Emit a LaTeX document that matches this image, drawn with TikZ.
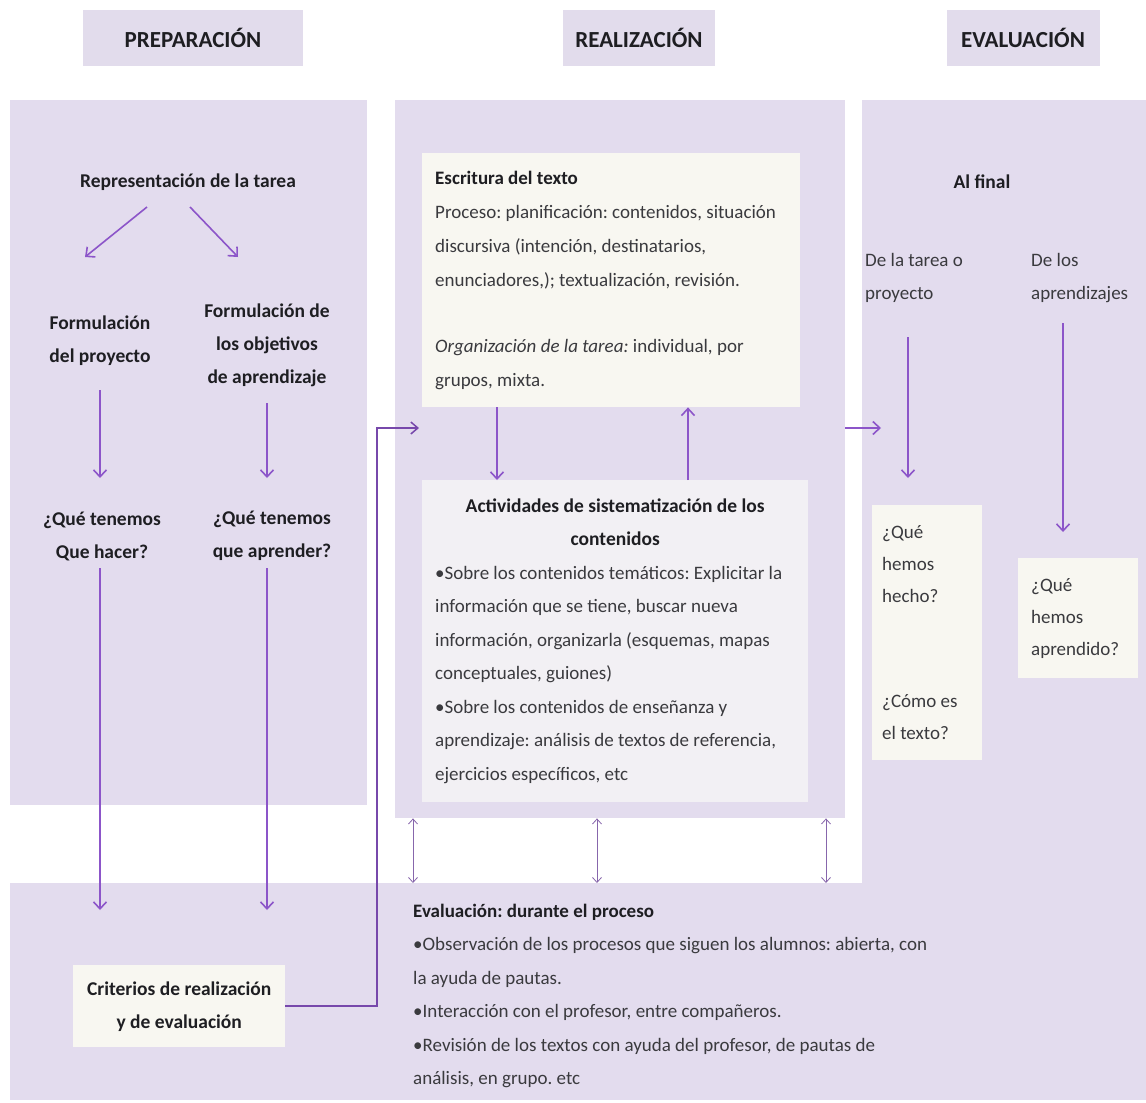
\documentclass[tikz,border=0pt]{standalone}
\usepackage{fontspec}
\setmainfont{Carlito}
\usepackage{tikz}
\usetikzlibrary{arrows.meta}
\setlength{\parindent}{0pt}
\frenchspacing

\definecolor{lavanda}{HTML}{E3DCEE}
\definecolor{cabecera}{HTML}{E2DCEC}
\definecolor{crema}{HTML}{F8F7F1}
\definecolor{blanquecino}{HTML}{F2F0F4}
\definecolor{morado}{HTML}{8C55C9}
\definecolor{tinta}{HTML}{1E1E22}
\definecolor{gris}{HTML}{3A3A3E}

\newcommand{\cuerpo}{\fontsize{19}{33.5}\selectfont\color{gris}}
\newcommand{\negro}{\fontsize{19.5}{33}\selectfont\bfseries\color{tinta}}

\tikzset{
  panel/.style={fill=lavanda, anchor=north west, inner sep=0pt},
  titulo/.style={fill=cabecera, inner sep=0pt, minimum height=56pt,
    font=\fontsize{23}{27}\selectfont\bfseries\color{tinta}},
  caja/.style={fill=crema, anchor=north west, align=flush left, font=\cuerpo},
  negrita/.style={font=\negro, align=center, inner sep=0pt},
  llano/.style={font=\cuerpo, align=left, inner sep=0pt, anchor=west},
  flecha/.style={draw=morado, line width=1.6pt, -{Straight Barb[length=7pt,width=13pt]}},
  doble/.style={draw=morado!60!gray, line width=0.8pt,
    {Straight Barb[length=5pt,width=9pt]}-{Straight Barb[length=5pt,width=9pt]}},
  linea/.style={draw=morado!85!black, line width=1.5pt, -{Straight Barb[length=7pt,width=12pt]}}
}

\begin{document}
\begin{tikzpicture}[x=1pt,y=-1pt]
\path[fill=white, use as bounding box] (0,0) rectangle (1146,1103);
% cabeceras
\node[titulo, minimum width=220pt] (tprep) at (193,38) {PREPARACIÓN};
\node[titulo, minimum width=152pt] (treal) at (639,38) {REALIZACIÓN};
\node[titulo, minimum width=153pt] (teval) at (1023,38) {EVALUACIÓN};
% paneles
\node[panel, minimum width=357pt, minimum height=705pt] (panelPrep) at (10,100) {};
\node[panel, minimum width=450pt, minimum height=718pt] (panelReal) at (395,100) {};
\node[panel, minimum width=284pt, minimum height=784pt] (panelEval) at (862,100) {};
\node[panel, minimum width=1136pt, minimum height=217pt] (banda) at (10,883) {};
%
% preparacion
\node[negrita] (rep) at (188,182) {Representación de la tarea};
\node[negrita] (fproy) at (100,341) {Formulación\\del proyecto};
\node[negrita] (fobj) at (267,345) {Formulación de\\los objetivos\\de aprendizaje};
\node[negrita] (qhacer) at (102,536) {¿Qué tenemos\\Que hacer?};
\node[negrita] (qapr) at (272,536) {¿Qué tenemos\\que aprender?};
\node[caja, align=center, font=\negro, minimum width=212pt, minimum height=82pt]
  (crit) at (73,965) {Criterios de realización\\ y de evaluación};
%
\draw[flecha] (rep.center) ++(-41,25) -- ++(-62,50);
\draw[flecha] (rep.center) ++(2,25) -- ++(48,50);
\draw[flecha] ([yshift=-49pt]fproy.center) -- ([yshift=58pt]qhacer.center -| fproy.center);
\draw[flecha] ([yshift=-58pt]fobj.center) -- ([yshift=58pt]qapr.center -| fobj.center);
\draw[flecha] ([yshift=-32pt]fproy.center |- qhacer.center) -- ([yshift=55pt]crit.north -| fproy.center);
\draw[flecha] ([yshift=-32pt]fobj.center |- qapr.center) -- ([yshift=55pt]crit.north -| fobj.center);
%
% realizacion
\node[caja, font=\fontsize{19}{34}\selectfont\color{gris}, text width=352pt,
  inner xsep=13pt, inner ysep=0pt, minimum height=254pt]
  (escritura) at (422,153) {\textbf{\color{tinta}Escritura del texto}\\
  Proceso: planificación: contenidos, situación\\
  discursiva (intención, destinatarios,\\
  enunciadores,); textualización, revisión.\\[32pt]
  \textit{Organización de la tarea:} individual, por\\
  grupos, mixta.};
\node[caja, fill=blanquecino, align=none, text width=360pt, inner xsep=13pt, inner ysep=0pt,
  minimum height=322pt] (activ) at (422,480) {%
  {\centering\negro Actividades de sistematización de los\\ contenidos\par}
  \raggedright
  •Sobre los contenidos temáticos: Explicitar la\\
  información que se tiene, buscar nueva\\
  información, organizarla (esquemas, mapas\\
  conceptuales, guiones)\\
  •Sobre los contenidos de enseñanza y\\
  aprendizaje: análisis de textos de referencia,\\
  ejercicios específicos, etc};
%
\draw[flecha] ([xshift=75pt]escritura.south west) -- ([xshift=75pt]escritura.south west |- activ.north);
\draw[flecha] ([xshift=266pt]escritura.south west |- activ.north) -- ([xshift=266pt]escritura.south west);
\foreach \dx in {18,202,431}
  \draw[doble] ([xshift=\dx pt]panelReal.south west) -- ([xshift=\dx pt]panelReal.south west |- banda.north);
%
\coordinate (entrada) at (419,428);
\coordinate (salida) at (881,428);
\draw[linea] (crit.east) -| ([xshift=-42pt]entrada) -- (entrada);
\draw[flecha] (panelReal.east |- salida) -- (salida);
%
% evaluacion
\node[negrita] (alfinal) at (982,182) {Al final};
\node[llano] (dtarea) at (865,278) {De la tarea o\\proyecto};
\node[llano] (daprend) at (1031,278) {De los\\aprendizajes};
\node[caja, text width=90pt, inner xsep=10pt, inner ysep=0pt, minimum height=255pt,
  font=\fontsize{19}{32}\selectfont\color{gris}]
  (hecho) at (872,505) {¿Qué\\hemos\\hecho?\\[73pt]¿Cómo es\\el texto?};
\node[caja, text width=94pt, inner xsep=13pt, inner ysep=0pt, minimum height=120pt,
  font=\fontsize{19}{32}\selectfont\color{gris}]
  (aprendido) at (1018,558) {¿Qué\\hemos\\aprendido?};
\draw[flecha] (hecho.north west) ++(36,-168) -- ++(0,141);
\draw[flecha] (aprendido.north west) ++(45,-235) -- ++(0,209);
%
% evaluacion durante el proceso
\node[llano] (durante) at (413,996) {\textbf{\color{tinta}Evaluación: durante el proceso}\\
  •Observación de los procesos que siguen los alumnos: abierta, con\\
  la ayuda de pautas.\\
  •Interacción con el profesor, entre compañeros.\\
  •Revisión de los textos con ayuda del profesor, de pautas de\\
  análisis, en grupo. etc};
\end{tikzpicture}
\end{document}
